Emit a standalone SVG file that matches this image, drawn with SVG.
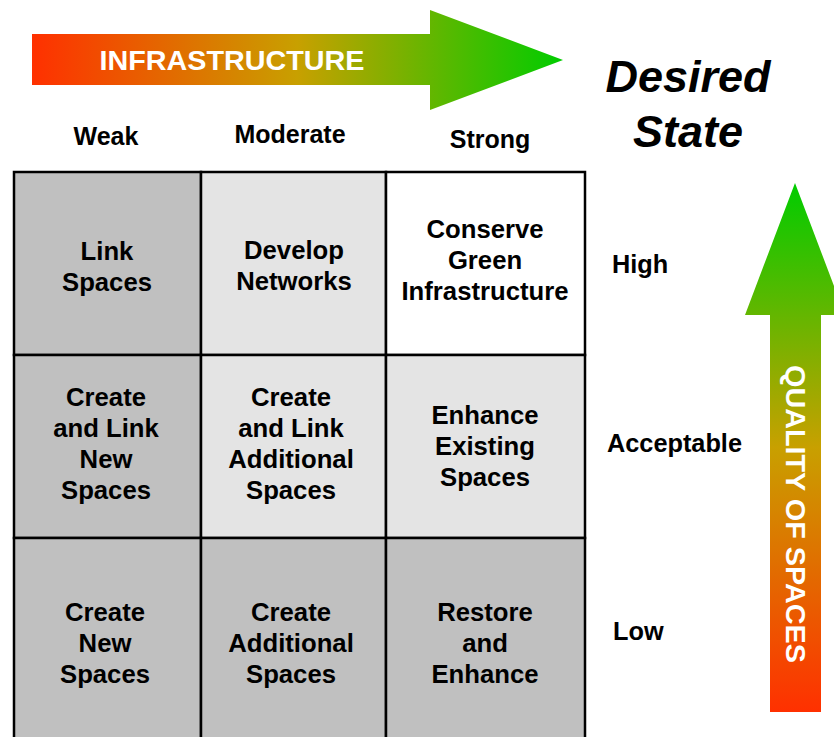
<svg xmlns="http://www.w3.org/2000/svg" width="834" height="737" viewBox="0 0 834 737">
  <defs>
    <linearGradient id="gH" x1="32" y1="0" x2="563" y2="0" gradientUnits="userSpaceOnUse">
      <stop offset="0" stop-color="#ff3000"/>
      <stop offset="0.5" stop-color="#c8a000"/>
      <stop offset="1" stop-color="#00cc00"/>
    </linearGradient>
    <linearGradient id="gV" x1="0" y1="712" x2="0" y2="183" gradientUnits="userSpaceOnUse">
      <stop offset="0" stop-color="#ff3000"/>
      <stop offset="0.5" stop-color="#c8a000"/>
      <stop offset="1" stop-color="#00cc00"/>
    </linearGradient>
  </defs>
  <style>
    text { font-family: "Liberation Sans", Arial, sans-serif; font-weight: bold; fill: #000; }
    .cell text { font-size: 25.7px; text-anchor: middle; }
    .hdr { font-size: 25px; text-anchor: middle; }
    .lbl { font-size: 25.3px; }
    .arrowtxt { fill: #fff; }
    .c { stroke: #000; stroke-width: 2.5; }
    .dark { fill: #c0c0c0; }
    .light { fill: #e4e4e4; }
    .white { fill: #ffffff; }
  </style>
  <rect width="834" height="737" fill="#fff"/>

  <g id="infra-arrow">
    <polygon points="32,34 430,34 430,10 563,60 430,110 430,85 32,85" fill="url(#gH)"/>
    <text class="arrowtxt" x="232" y="70" font-size="28" text-anchor="middle" textLength="265" lengthAdjust="spacingAndGlyphs">INFRASTRUCTURE</text>
  </g>

  <g id="desired-state">
    <text x="688" y="92" font-size="45" font-style="italic" text-anchor="middle">Desired</text>
    <text x="688" y="147" font-size="45" font-style="italic" text-anchor="middle">State</text>
  </g>

  <g id="col-headers">
    <text class="hdr" x="106" y="145">Weak</text>
    <text class="hdr" x="290" y="143">Moderate</text>
    <text class="hdr" x="490" y="148">Strong</text>
  </g>

  <g id="row-labels">
    <text class="lbl" x="612" y="273">High</text>
    <text class="lbl" x="607" y="452">Acceptable</text>
    <text class="lbl" x="613" y="640">Low</text>
  </g>

  <g id="quality-arrow">
    <polygon points="770,712 770,315 745,315 795,183 845,315 821,315 821,712" fill="url(#gV)"/>
    <text class="arrowtxt" transform="translate(786,514) rotate(90)" font-size="27" text-anchor="middle" textLength="298" lengthAdjust="spacingAndGlyphs">QUALITY OF SPACES</text>
  </g>

  <g id="cell-link-spaces" class="cell">
    <rect class="c dark" x="14" y="172" width="187" height="183"/>
    <text x="107" y="260">Link</text>
    <text x="107" y="291">Spaces</text>
  </g>
  <g id="cell-develop-networks" class="cell">
    <rect class="c light" x="201" y="172" width="185" height="183"/>
    <text x="294" y="259">Develop</text>
    <text x="294" y="290">Networks</text>
  </g>
  <g id="cell-conserve" class="cell">
    <rect class="c white" x="386" y="172" width="199" height="183"/>
    <text x="485" y="238">Conserve</text>
    <text x="485" y="269">Green</text>
    <text x="485" y="300">Infrastructure</text>
  </g>

  <g id="cell-create-link-new" class="cell">
    <rect class="c dark" x="14" y="355" width="187" height="183"/>
    <text x="106" y="406">Create</text>
    <text x="106" y="437">and Link</text>
    <text x="106" y="468">New</text>
    <text x="106" y="499">Spaces</text>
  </g>
  <g id="cell-create-link-additional" class="cell">
    <rect class="c light" x="201" y="355" width="185" height="183"/>
    <text x="291" y="406">Create</text>
    <text x="291" y="437">and Link</text>
    <text x="291" y="468">Additional</text>
    <text x="291" y="499">Spaces</text>
  </g>
  <g id="cell-enhance-existing" class="cell">
    <rect class="c light" x="386" y="355" width="199" height="183"/>
    <text x="485" y="424">Enhance</text>
    <text x="485" y="455">Existing</text>
    <text x="485" y="486">Spaces</text>
  </g>

  <g id="cell-create-new" class="cell">
    <rect class="c dark" x="14" y="538" width="187" height="205"/>
    <text x="105" y="621">Create</text>
    <text x="105" y="652">New</text>
    <text x="105" y="683">Spaces</text>
  </g>
  <g id="cell-create-additional" class="cell">
    <rect class="c dark" x="201" y="538" width="185" height="205"/>
    <text x="291" y="621">Create</text>
    <text x="291" y="652">Additional</text>
    <text x="291" y="683">Spaces</text>
  </g>
  <g id="cell-restore-enhance" class="cell">
    <rect class="c dark" x="386" y="538" width="199" height="205"/>
    <text x="485" y="621">Restore</text>
    <text x="485" y="652">and</text>
    <text x="485" y="683">Enhance</text>
  </g>

  <g id="connectors"></g>
</svg>
